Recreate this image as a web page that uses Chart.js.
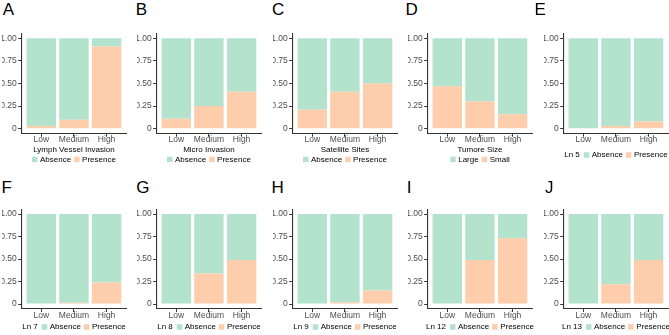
<!DOCTYPE html>
<html>
<head>
<meta charset="utf-8">
<script src="https://cdn.jsdelivr.net/npm/chart.js@4/dist/chart.umd.min.js"></script>
<style>
  html, body { margin: 0; padding: 0; background: #fff; }
  #wrap { position: relative; width: 669px; height: 335px; overflow: hidden; }
  #wrap canvas { position: absolute; }
  .tag { position: absolute; font: 17px/17px "Liberation Sans", Arial, sans-serif; color: #000; }
</style>
</head>
<body>
<div id="wrap"></div>
<script>
// Data (share of each level)
const categories = ['Low', 'Medium', 'High'];
const yTicks = [0, 0.25, 0.5, 0.75, 1];
const yTickLabels = ['0', '0.25', '0.50', '0.75', '1.00'];

const panelLetters = ['A', 'B', 'C', 'D', 'E', 'F', 'G', 'H', 'I', 'J'];
const axisTitles = ['Lymph Vessel Invasion', 'Micro Invasion', 'Satellite Sites', 'Tumore Size', '', '', '', '', '', ''];
const legendTitles = ['', '', '', '', 'Ln 5', 'Ln 7', 'Ln 8', 'Ln 9', 'Ln 12', 'Ln 13'];
const greenLabels = ['Absence', 'Absence', 'Absence', 'Large', 'Absence', 'Absence', 'Absence', 'Absence', 'Absence', 'Absence'];
const orangeLabels = ['Presence', 'Presence', 'Presence', 'Small', 'Presence', 'Presence', 'Presence', 'Presence', 'Presence', 'Presence'];

const lymphPresence = [0.03, 0.10, 0.91];
const lymphAbsence = [0.97, 0.90, 0.09];
const microPresence = [0.11, 0.25, 0.41];
const microAbsence = [0.89, 0.75, 0.59];
const satellitePresence = [0.21, 0.41, 0.50];
const satelliteAbsence = [0.79, 0.59, 0.50];
const sizeSmall = [0.47, 0.30, 0.16];
const sizeLarge = [0.53, 0.70, 0.84];
const ln5Presence = [0, 0.03, 0.08];
const ln5Absence = [1, 0.97, 0.92];
const ln7Presence = [0, 0.015, 0.24];
const ln7Absence = [1, 0.985, 0.76];
const ln8Presence = [0, 0.34, 0.49];
const ln8Absence = [1, 0.66, 0.51];
const ln9Presence = [0, 0.02, 0.15];
const ln9Absence = [1, 0.98, 0.85];
const ln12Presence = [0, 0.49, 0.73];
const ln12Absence = [1, 0.51, 0.27];
const ln13Presence = [0, 0.22, 0.49];
const ln13Absence = [1, 0.78, 0.51];

const orangeSeries = [lymphPresence, microPresence, satellitePresence, sizeSmall, ln5Presence,
  ln7Presence, ln8Presence, ln9Presence, ln12Presence, ln13Presence];
const greenSeries = [lymphAbsence, microAbsence, satelliteAbsence, sizeLarge, ln5Absence,
  ln7Absence, ln8Absence, ln9Absence, ln12Absence, ln13Absence];

// Layout
const GREEN = '#B3E2CD';
const ORANGE = '#FDCDAC';
const FONT = '"Liberation Sans", Arial, sans-serif';
const colLeft = [0, 135, 271, 406, 542];
const rowTop = [0, 175];
const rowHeight = [168, 160];
const chartTop = [33.8, 34.5];
const chartBottom = [133.2, 133.5];
const legendY = [159.5, 159.5, 159.5, 159.5, 155, 152, 152, 152, 152, 152];
const letterLeft = [2.7, 135.7, 271.9, 405.4, 534.4, 1.4, 136.2, 271.4, 406.7, 545];
const letterTop = [0.5, 179];

const miniLegend = {
  id: 'miniLegend',
  afterDraw(chart, args, opts) {
    const ctx = chart.ctx;
    const box = 5.5, gapBox = 2.5, gapItem = 3, gapTitle = 4;
    ctx.save();
    ctx.font = '8px ' + FONT;
    ctx.textBaseline = 'middle';
    let total = 0;
    if (opts.title) total += ctx.measureText(opts.title).width + gapTitle;
    opts.items.forEach((it, k) => {
      total += box + gapBox + ctx.measureText(it.label).width + (k ? gapItem : 0);
    });
    const a = chart.chartArea;
    let x = (a.left + a.right) / 2 - total / 2;
    const y = opts.y;
    ctx.fillStyle = '#000';
    if (opts.title) {
      ctx.fillText(opts.title, x, y);
      x += ctx.measureText(opts.title).width + gapTitle;
    }
    opts.items.forEach((it, k) => {
      if (k) x += gapItem;
      ctx.fillStyle = it.color;
      ctx.fillRect(x, y - box / 2, box, box);
      x += box + gapBox;
      ctx.fillStyle = '#000';
      ctx.fillText(it.label, x, y);
      x += ctx.measureText(it.label).width;
    });
    ctx.restore();
  }
};

const wrap = document.getElementById('wrap');

panelLetters.forEach((letter, i) => {
  const row = i < 5 ? 0 : 1;
  const col = i % 5;

  const tag = document.createElement('div');
  tag.className = 'tag';
  tag.textContent = letter;
  tag.style.left = letterLeft[i] + 'px';
  tag.style.top = letterTop[row] + 'px';
  wrap.appendChild(tag);

  const canvas = document.createElement('canvas');
  canvas.width = 134;
  canvas.height = rowHeight[row];
  canvas.style.left = colLeft[col] + 'px';
  canvas.style.top = rowTop[row] + 'px';
  wrap.appendChild(canvas);

  const leftPad = 2;
  const axisLeft = 21.7;
  const plotWidth = 104.5;
  const xScaleHeight = 20.3;
  const bottomPad = rowHeight[row] - chartBottom[row] - xScaleHeight;

  new Chart(canvas, {
    type: 'bar',
    data: {
      datasets: [
        {
          label: orangeLabels[i],
          data: orangeSeries[i].map((v, k) => ({ x: k, y: v })),
          backgroundColor: ORANGE,
          borderWidth: 0,
          barPercentage: 0.9,
          categoryPercentage: 1
        },
        {
          label: greenLabels[i],
          data: greenSeries[i].map((v, k) => ({ x: k, y: v })),
          backgroundColor: GREEN,
          borderWidth: 0,
          barPercentage: 0.9,
          categoryPercentage: 1
        }
      ]
    },
    options: {
      responsive: false,
      animation: false,
      events: [],
      layout: {
        padding: {
          left: leftPad,
          right: 134 - axisLeft - plotWidth,
          top: chartTop[row],
          bottom: bottomPad
        }
      },
      plugins: {
        legend: { display: false },
        tooltip: { enabled: false },
        miniLegend: {
          title: legendTitles[i],
          y: legendY[i],
          items: [
            { label: greenLabels[i], color: GREEN },
            { label: orangeLabels[i], color: ORANGE }
          ]
        }
      },
      scales: {
        x: {
          type: 'linear',
          stacked: true,
          offset: false,
          min: -0.6,
          max: 2.6,
          afterBuildTicks: s => { s.ticks = categories.map((c, k) => ({ value: k })); },
          afterFit: s => { s.height = xScaleHeight; },
          grid: { display: true, offset: false, drawOnChartArea: false, drawTicks: true, tickLength: 3.5, tickColor: '#333', tickWidth: 1 },
          border: { display: true, color: '#333', width: 1.1 },
          ticks: {
            autoSkip: false,
            maxRotation: 0,
            padding: -1,
            color: '#4d4d4d',
            font: { family: FONT, size: 8.5, lineHeight: 1 },
            callback: v => categories[v]
          },
          title: {
            display: axisTitles[i] !== '',
            text: axisTitles[i],
            color: '#000',
            padding: 0,
            font: { family: FONT, size: 8, lineHeight: 1 }
          }
        },
        y: {
          stacked: true,
          min: -0.05,
          max: 1.05,
          afterBuildTicks: s => { s.ticks = yTicks.map(v => ({ value: v })); },
          afterFit: s => { s.width = axisLeft - leftPad; },
          grid: { display: true, drawOnChartArea: false, drawTicks: true, tickLength: 3.5, tickColor: '#333', tickWidth: 1 },
          border: { display: true, color: '#333', width: 1.1 },
          ticks: {
            padding: 1.5,
            color: '#4d4d4d',
            font: { family: FONT, size: 8.5, lineHeight: 1 },
            callback: v => yTickLabels[yTicks.indexOf(v)]
          }
        }
      }
    },
    plugins: [miniLegend]
  });
});
</script>
</body>
</html>
